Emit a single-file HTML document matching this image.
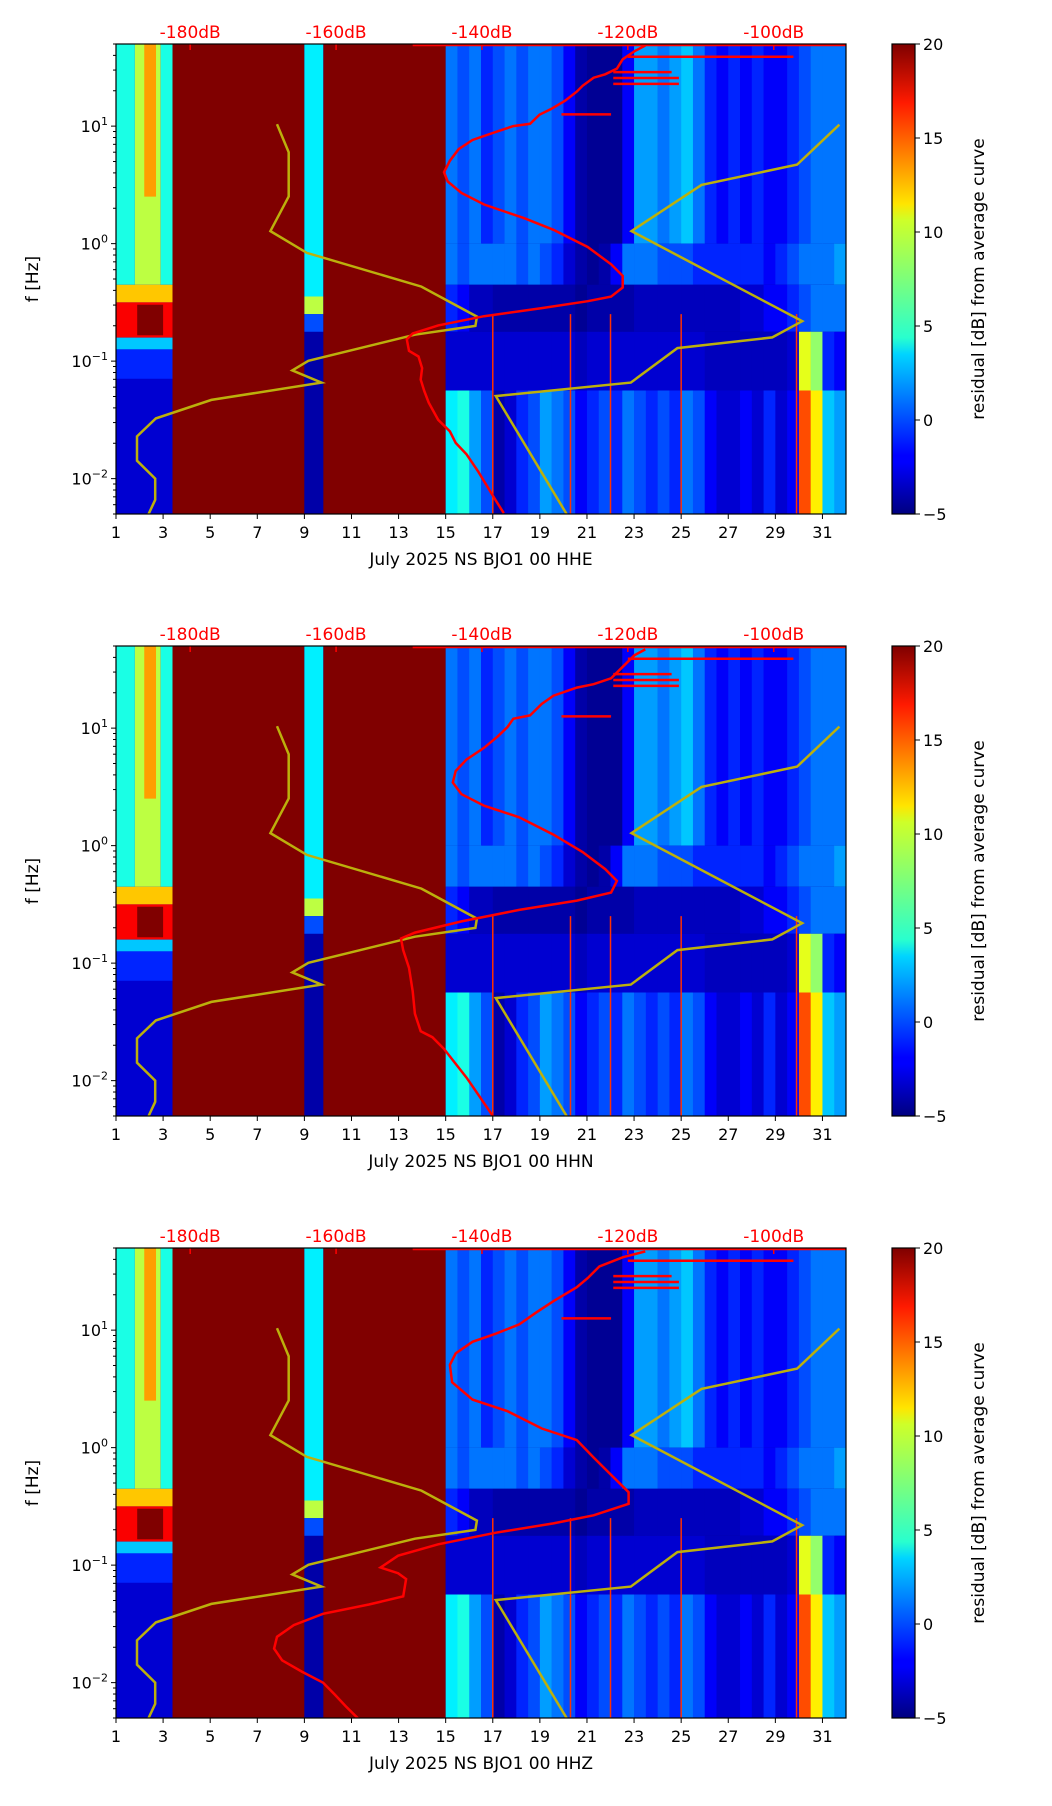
<!DOCTYPE html>
<html><head><meta charset="utf-8"><title>Spectrogram residuals BJO1</title>
<style>
html,body{margin:0;padding:0;background:#fff;}
svg{display:block;font-family:"DejaVu Sans","Liberation Sans",sans-serif;}
</style></head>
<body>
<svg id="fig" width="1052" height="1806" viewBox="0 0 1052 1806" xmlns="http://www.w3.org/2000/svg">
<defs>
<linearGradient id="jet" x1="0" y1="1" x2="0" y2="0">
<stop offset="0" stop-color="#00007f"/><stop offset="0.11" stop-color="#0000ff"/>
<stop offset="0.125" stop-color="#0000ff"/><stop offset="0.34" stop-color="#00d4ff"/>
<stop offset="0.375" stop-color="#29ffce"/><stop offset="0.5" stop-color="#7dff7a"/>
<stop offset="0.625" stop-color="#ceff29"/><stop offset="0.66" stop-color="#ffe500"/>
<stop offset="0.875" stop-color="#ff1a00"/><stop offset="1" stop-color="#7f0000"/>
</linearGradient>
</defs>
</svg>
<script>
// ---- data ----
const panelTitles = ["July 2025 NS BJO1 00 HHE","July 2025 NS BJO1 00 HHN","July 2025 NS BJO1 00 HHZ"];
const dayTicks = [1,3,5,7,9,11,13,15,17,19,21,23,25,27,29,31];
const dbTicks = [-180,-160,-140,-120,-100];
const decadeTicks = [-2,-1,0,1];
const cbTicks = [-5,0,5,10,15,20];
// heatmap blocks: [day0, day1, log10f0, log10f1, residual dB]
const blocks = [
 [1,3.4,-2.4,1.7,-3],
 [1,1.8,-0.35,1.7,5],[1.8,2.9,-0.35,1.7,9],[2.2,2.7,0.4,1.7,13],[2.9,3.4,-0.35,1.7,5],
 [1,3.4,-0.5,-0.35,12],[1,3.4,-0.8,-0.5,17],[1.9,3.0,-0.78,-0.52,20],
 [1,3.4,-0.9,-0.8,3],[1,3.4,-1.15,-0.9,-1],
 [3.4,9,-2.4,1.7,20],[9.8,15,-2.4,1.7,20],
 [9,9.8,-2.4,1.7,-4],[9,9.8,-0.45,1.7,4],[9,9.8,-0.6,-0.45,9],[9,9.8,-0.75,-0.6,0]
];
const colDays = [15,15.5,16,16.5,17,17.5,18,18.5,19,19.5,20,20.5,21,21.5,22,22.5,23,23.5,24,24.5,25,25.5,26,26.5,27,27.5,28,28.5,29,29.5,30,30.5,31,31.5];
const highBand = [1,0,1,-1,0,1,0,1,1,0,-2,-4,-4.5,-4.5,-4.5,-2,2,2,1,2,3,1,-1,-2,-1,-2,-1,-2,-2,-1,0,1,1,1];
const midBand  = [1,0,1,1,1,1,0,1,0,-1,-3,-4,-4.5,-4,-2,1,1,1,0,0,0,-1,-1,-1,-1,-1,-1,-2,-1,0,1,1,1,2];
const darkBand = [-1,-2,-3.5,-3.5,-4,-4,-4,-4,-4,-4,-4,-4.5,-4,-4,-4,-4,-3.5,-3.5,-3.5,-3.5,-3.5,-3.5,-3.5,-3.5,-3.5,-3,-3,-2,-2,-1,0,1,1,1];
const lowBand  = [-3,-3,-3,-3,-3,-3,-3,-3,-3,-3,-3,-3.5,-3,-3,-3,-3,-3,-3,-3,-3,-3,-3,-3.5,-3.5,-3.5,-3.5,-3.5,-3.5,-3.5,-3,10,8,-1,-2];
const bottomBand = [4,5,2,0,-4,-3,-1,0,2,1,0,-2,-1,0,-1,1,0,-1,0,-1,1,0,-2,-3,-3,-2,-3,-1,-3,-2,15,11,3,2];
const streakDays = [17,20.3,22,25,29.9];
// yellow curve (dB, log10 f)
const yellowA_db = [-168.1,-166.5,-166.5,-169.0,-164.0,-148.3,-140.7,-140.9,-149.2,-163.8,-166.0,-162.0,-177.1,-184.7,-187.3,-187.3,-184.8,-184.8,-185.7];
const yellowA_lf = [1.016,0.777,0.402,0.107,-0.079,-0.366,-0.621,-0.700,-0.775,-0.997,-1.079,-1.183,-1.330,-1.487,-1.641,-1.847,-2.000,-2.180,-2.301];
const yellowB_db = [-128.4,-138.1,-119.6,-113.2,-100.2,-96.1,-119.5,-109.9,-96.8,-91.0];
const yellowB_lf = [-2.301,-1.298,-1.183,-0.889,-0.798,-0.660,0.107,0.500,0.673,1.013];
// red curves per panel
const red1_db = [-137.0,-138.1,-140.5,-142.1,-143.6,-144.4,-146.0,-147.3,-147.9,-148.4,-148.2,-148.7,-150.0,-150.3,-149.5,-146.0,-139.7,-131.8,-125.5,-122.3,-120.7,-120.7,-122.3,-125.5,-130.2,-134.2,-136.5,-139.7,-142.8,-144.7,-145.2,-144.4,-143.2,-141.3,-138.1,-135.7,-133.4,-132.1,-130.5,-128.6,-127.0,-126.2,-124.7,-123.1,-121.5,-120.7,-119.1,-117.6];
const red1_lf = [-2.294,-2.186,-1.941,-1.794,-1.696,-1.598,-1.5,-1.353,-1.255,-1.157,-1.059,-0.961,-0.912,-0.814,-0.765,-0.696,-0.618,-0.549,-0.49,-0.451,-0.373,-0.275,-0.176,-0.029,0.118,0.216,0.265,0.333,0.431,0.529,0.608,0.706,0.804,0.882,0.951,1.0,1.02,1.098,1.147,1.216,1.294,1.343,1.412,1.441,1.49,1.569,1.637,1.686];
const red2_db = [-138.4,-140.5,-142.1,-145.2,-146.8,-148.4,-149.2,-149.5,-150.0,-150.8,-151.1,-149.2,-142.8,-134.9,-127.0,-122.3,-121.5,-123.1,-126.2,-130.2,-134.9,-139.7,-142.8,-144.0,-143.6,-142.1,-139.7,-137.8,-136.5,-135.7,-133.4,-131.8,-130.2,-127.0,-124.7,-122.3,-120.7,-119.1,-117.6];
const red2_lf = [-2.31,-2.12,-1.975,-1.73,-1.63,-1.58,-1.43,-1.24,-1.04,-0.89,-0.79,-0.74,-0.645,-0.547,-0.468,-0.40,-0.30,-0.20,-0.054,0.094,0.241,0.34,0.438,0.537,0.635,0.734,0.833,0.931,1.01,1.079,1.108,1.207,1.276,1.345,1.374,1.424,1.522,1.62,1.67];
const red3_db = [-156.9,-158.7,-160.2,-161.8,-164.7,-167.4,-168.5,-168.1,-165.8,-161.8,-155.5,-150.8,-150.4,-151.5,-153.9,-151.5,-146.0,-138.1,-130.2,-124.7,-119.9,-119.9,-122.3,-124.7,-127.0,-131.8,-136.5,-141.3,-144.1,-144.4,-143.6,-141.3,-138.1,-134.9,-132.6,-130.2,-127.0,-125.5,-123.9,-120.7,-117.6];
const red3_lf = [-2.31,-2.20,-2.10,-2.00,-1.906,-1.81,-1.71,-1.61,-1.51,-1.414,-1.335,-1.266,-1.118,-1.069,-1.02,-0.92,-0.823,-0.724,-0.645,-0.576,-0.478,-0.379,-0.232,-0.084,0.064,0.163,0.31,0.409,0.557,0.704,0.803,0.901,0.97,1.049,1.148,1.246,1.365,1.443,1.542,1.62,1.67];
// top red segments: [dB start, dB end, log10 f]
const redSegs = [[-149.5,-84.5,1.69],[-120,-97.3,1.59],[-122,-114,1.46],[-122,-113,1.41],[-122,-113,1.36],[-129.1,-122.3,1.10]];

// ---- layout ----
const svg = document.getElementById('fig');
const NS = 'http://www.w3.org/2000/svg';
const L = 116, W = 730, H = 470, tops = [44,646,1248];
const day0 = 1, day1 = 32, lfMin = Math.log10(0.005), lfMax = Math.log10(50);
const xDay = d => L + (d - day0) / (day1 - day0) * W;
const yLf = (top, lf) => top + (lfMax - lf) / (lfMax - lfMin) * H;
const xDb = db => 190.2 + (db + 180) * 7.294;
function jet(v){
  let t = Math.max(0, Math.min(1, (v + 5) / 25));
  const c = x => Math.round(255 * Math.max(0, Math.min(1, x)));
  return `rgb(${c(1.5-Math.abs(4*t-3))},${c(1.5-Math.abs(4*t-2))},${c(1.5-Math.abs(4*t-1))})`;
}
function el(tag, attrs, parent){
  const e = document.createElementNS(NS, tag);
  for (const k in attrs) e.setAttribute(k, attrs[k]);
  (parent || svg).appendChild(e);
  return e;
}
function poly(dbs, lfs, top){
  return dbs.map((d,i)=>xDb(d).toFixed(1)+','+yLf(top,lfs[i]).toFixed(1)).join(' ');
}
const reds = [[red1_db,red1_lf],[red2_db,red2_lf],[red3_db,red3_lf]];

tops.forEach((top, p) => {
  const g = el('g', {});
  
  
  const clipId = 'clip' + p;
  const cp = el('clipPath', {id: clipId}, g);
  el('rect', {x:L, y:top, width:W, height:H}, cp);
  const hm = el('g', {'clip-path': `url(#${clipId})`}, g);
  
  
  el('rect', {x:L, y:top, width:W, height:H, fill:jet(-4.5)}, hm);
  blocks.forEach(b => {
    const r = el('rect', {x:xDay(b[0]), y:yLf(top,b[3]), width:xDay(b[1])-xDay(b[0]), height:yLf(top,b[2])-yLf(top,b[3]), fill:jet(b[4])}, hm);
    
    
  });
  const bands = [[highBand,0,1.7],[midBand,-0.35,0],[darkBand,-0.75,-0.35],[lowBand,-1.25,-0.75],[bottomBand,-2.4,-1.25]];
  bands.forEach(bd => {
    colDays.forEach((d,i) => {
      const r = el('rect', {x:xDay(d), y:yLf(top,bd[2]), width:xDay(d+0.5)-xDay(d)+0.3, height:yLf(top,bd[1])-yLf(top,bd[2]), fill:jet(bd[0][i])}, hm);
      
      
    });
  });
  streakDays.forEach(d => {
    const s = el('line', {x1:xDay(d), x2:xDay(d), y1:yLf(top,-0.6), y2:top+H, stroke:'#ff3000', 'stroke-width':1.5}, hm);
    
    
  });
  dbTicks.forEach(db => {
    const t = el('line', {x1:xDb(db), x2:xDb(db), y1:top, y2:top+6, stroke:'#ff0000', 'stroke-width':1.5}, hm);
    
    
  });
  const ya = el('polyline', {points:poly(yellowA_db,yellowA_lf,top), fill:'none', stroke:'#bcb00c', 'stroke-width':2.5}, hm);
  
  
  const yb = el('polyline', {points:poly(yellowB_db,yellowB_lf,top), fill:'none', stroke:'#bcb00c', 'stroke-width':2.5}, hm);
  
  
  const rc = el('polyline', {points:poly(reds[p][0],reds[p][1],top), fill:'none', stroke:'#ff0000', 'stroke-width':2.5}, hm);
  
  
  redSegs.forEach(s => {
    const l = el('line', {x1:xDb(s[0]), x2:xDb(s[1]), y1:yLf(top,s[2]), y2:yLf(top,s[2]), stroke:'#ff0000', 'stroke-width':2.5}, hm);
    
    
  });
  const fr = el('rect', {x:L, y:top, width:W, height:H, fill:'none', stroke:'#000', 'stroke-width':1.2}, g);
  
  
  dayTicks.forEach(d => {
    el('line', {x1:xDay(d), x2:xDay(d), y1:top+H, y2:top+H+5, stroke:'#000', 'stroke-width':1}, g);
    const t = el('text', {x:xDay(d), y:top+H+24, 'text-anchor':'middle', 'font-size':16, fill:'#000'}, g);
    t.textContent = d;
    
    
  });
  const xl = el('text', {x:481, y:top+H+51, 'text-anchor':'middle', 'font-size':17, fill:'#000'}, g);
  xl.textContent = panelTitles[p];
  
  
  for (let e = -3; e <= 1; e++) {
    for (let m = 1; m <= 9; m++) {
      const lf = e + Math.log10(m);
      if (lf < lfMin || lf > lfMax) continue;
      el('line', {x1:L-(m===1?5:3), x2:L, y1:yLf(top,lf), y2:yLf(top,lf), stroke:'#000', 'stroke-width':1}, g);
    }
  }
  decadeTicks.forEach(e => {
    const t = el('text', {x:L-8, y:yLf(top,e)+6, 'text-anchor':'end', 'font-size':16, fill:'#000'}, g);
    t.textContent = '10';
    const sup = el('tspan', {dy:-7, 'font-size':11}, t);
    sup.textContent = e < 0 ? '\u2212' + (-e) : String(e);
    
    
  });
  const yl = el('text', {x:0, y:0, transform:`translate(38,${top+H/2}) rotate(-90)`, 'text-anchor':'middle', 'font-size':17, fill:'#000'}, g);
  yl.textContent = 'f [Hz]';
  
  
  dbTicks.forEach(db => {
    const t = el('text', {x:xDb(db), y:top-6, 'text-anchor':'middle', 'font-size':17, fill:'#ff0000'}, g);
    t.textContent = db + 'dB';
    
    
  });
  const cb = el('rect', {x:892, y:top, width:23, height:H, fill:'url(#jet)', stroke:'#000', 'stroke-width':1.2}, g);
  
  
  cbTicks.forEach(v => {
    const y = top + H - (v + 5) / 25 * H;
    el('line', {x1:915, x2:920, y1:y, y2:y, stroke:'#000', 'stroke-width':1}, g);
    const t = el('text', {x:923, y:y+6, 'font-size':16, fill:'#000'}, g);
    t.textContent = v < 0 ? '\u2212' + (-v) : String(v);
    
    
  });
  const cl = el('text', {x:0, y:0, transform:`translate(984,${top+H/2}) rotate(-90)`, 'text-anchor':'middle', 'font-size':17, fill:'#000'}, g);
  cl.textContent = 'residual [dB] from average curve';
  
  
});
</script>
</body></html>
